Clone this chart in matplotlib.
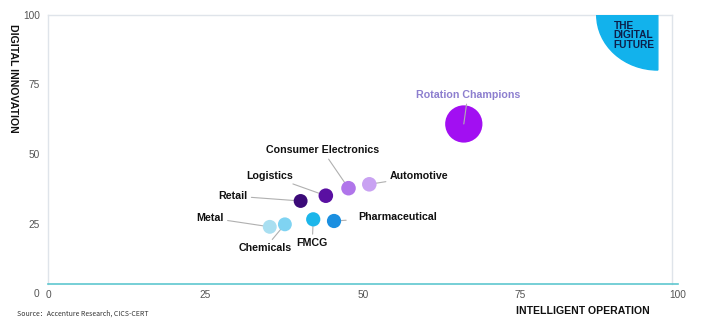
import matplotlib
matplotlib.use("Agg")
import matplotlib.pyplot as plt
from matplotlib.patches import Wedge
from matplotlib.transforms import Affine2D

plt.rcParams['font.family'] = ['Liberation Sans', 'DejaVu Sans']

# 行业数据：智能运营(x)、数字创新(y)
industries = ['Metal', 'Chemicals', 'FMCG', 'Pharmaceutical', 'Retail',
              'Logistics', 'Consumer Electronics', 'Automotive', 'Rotation Champions']
operation = [35.2, 37.6, 42.1, 45.4, 40.1, 44.1, 47.7, 51.0, 66.0]
innovation = [23.8, 24.7, 26.5, 25.9, 33.1, 35.0, 37.7, 39.1, 60.8]
sizes = [100, 100, 105, 105, 100, 110, 110, 110, 720]
colors = ['#a9dff1', '#7fd3f2', '#1cb6ea', '#1b8fe0', '#3b0a78',
          '#5a10a2', '#b075ea', '#c9a2f2', '#a20ff2']

# 标签相对点的偏移（像素）
offsets = [(-60, 9), (-20, -24), (-1, -24), (64, 4), (-68, 5),
           (-56, 20), (-26, 38), (50, 8), (4, 29)]

fig = plt.figure(figsize=(7.2, 3.24), dpi=100)
ax = fig.add_axes([48 / 720, 1 - 293 / 324, 630 / 720, 278 / 324])
ax.set_xlim(0, 100)
ax.set_ylim(0, 100)

for s in ax.spines.values():
    s.set_visible(False)
frame = '#dfe4ea'
ax.plot([0, 0], [3.2, 100], color=frame, lw=1, clip_on=False, zorder=1)
ax.plot([0, 99], [100, 100], color=frame, lw=1, clip_on=False, zorder=1)
ax.plot([99, 99], [3.2, 100], color=frame, lw=1, clip_on=False, zorder=1)
ax.plot([0, 100], [3.2, 3.2], color='#5fc7cf', lw=1.2, clip_on=False, zorder=1)

# 右上角 THE DIGITAL FUTURE
tr = Affine2D().scale(9.7, 19.8).translate(96.8, 100) + ax.transData
ax.add_patch(Wedge((0, 0), 1, 180, 270, transform=tr, color='#12b2ec', zorder=1))
ax.text(89.8, 97.8, 'THE\nDIGITAL\nFUTURE', fontsize=7.3, fontweight='bold',
        color='#0c1f4a', ha='left', va='top', linespacing=0.92)

ax.scatter(operation, innovation, s=sizes, c=colors, zorder=4, linewidths=0)

for i, name in enumerate(industries):
    dx, dy = offsets[i]
    champ = name == 'Rotation Champions'
    ax.annotate(name, (operation[i], innovation[i]),
                xytext=(dx * 0.72, dy * 0.72), textcoords='offset points',
                ha='center', va='center', fontsize=7.7, fontweight='bold',
                color='#8d7fcf' if champ else '#111111',
                arrowprops=dict(arrowstyle='-', color='#b0b0b0', lw=0.8,
                                shrinkA=7 if name == 'Pharmaceutical' else 1,
                                shrinkB=0),
                zorder=5 if champ else 3)

ax.set_xticks([0, 25, 50, 75, 100])
ax.set_yticks([0, 25, 50, 75, 100])
ax.tick_params(length=0, labelsize=7.3, labelcolor='#555555')
ax.tick_params(axis='x', pad=-2)
ax.tick_params(axis='y', pad=6)

fig.text(13 / 720, 1 - 78 / 324, 'DIGITAL INNOVATION', rotation=270,
         ha='center', va='center', fontsize=7.6, fontweight='bold', color='#111111')
fig.text(583 / 720, 1 - 311 / 324, 'INTELLIGENT OPERATION',
         ha='center', va='center', fontsize=7.6, fontweight='bold', color='#111111')
fig.text(17 / 720, 1 - 314 / 324, 'Source：Accenture Research, CICS-CERT',
         ha='left', va='center', fontsize=5, color='#333333',
         family=['Noto Sans CJK SC', 'DejaVu Sans'])

fig.savefig('out.png', dpi=100)
